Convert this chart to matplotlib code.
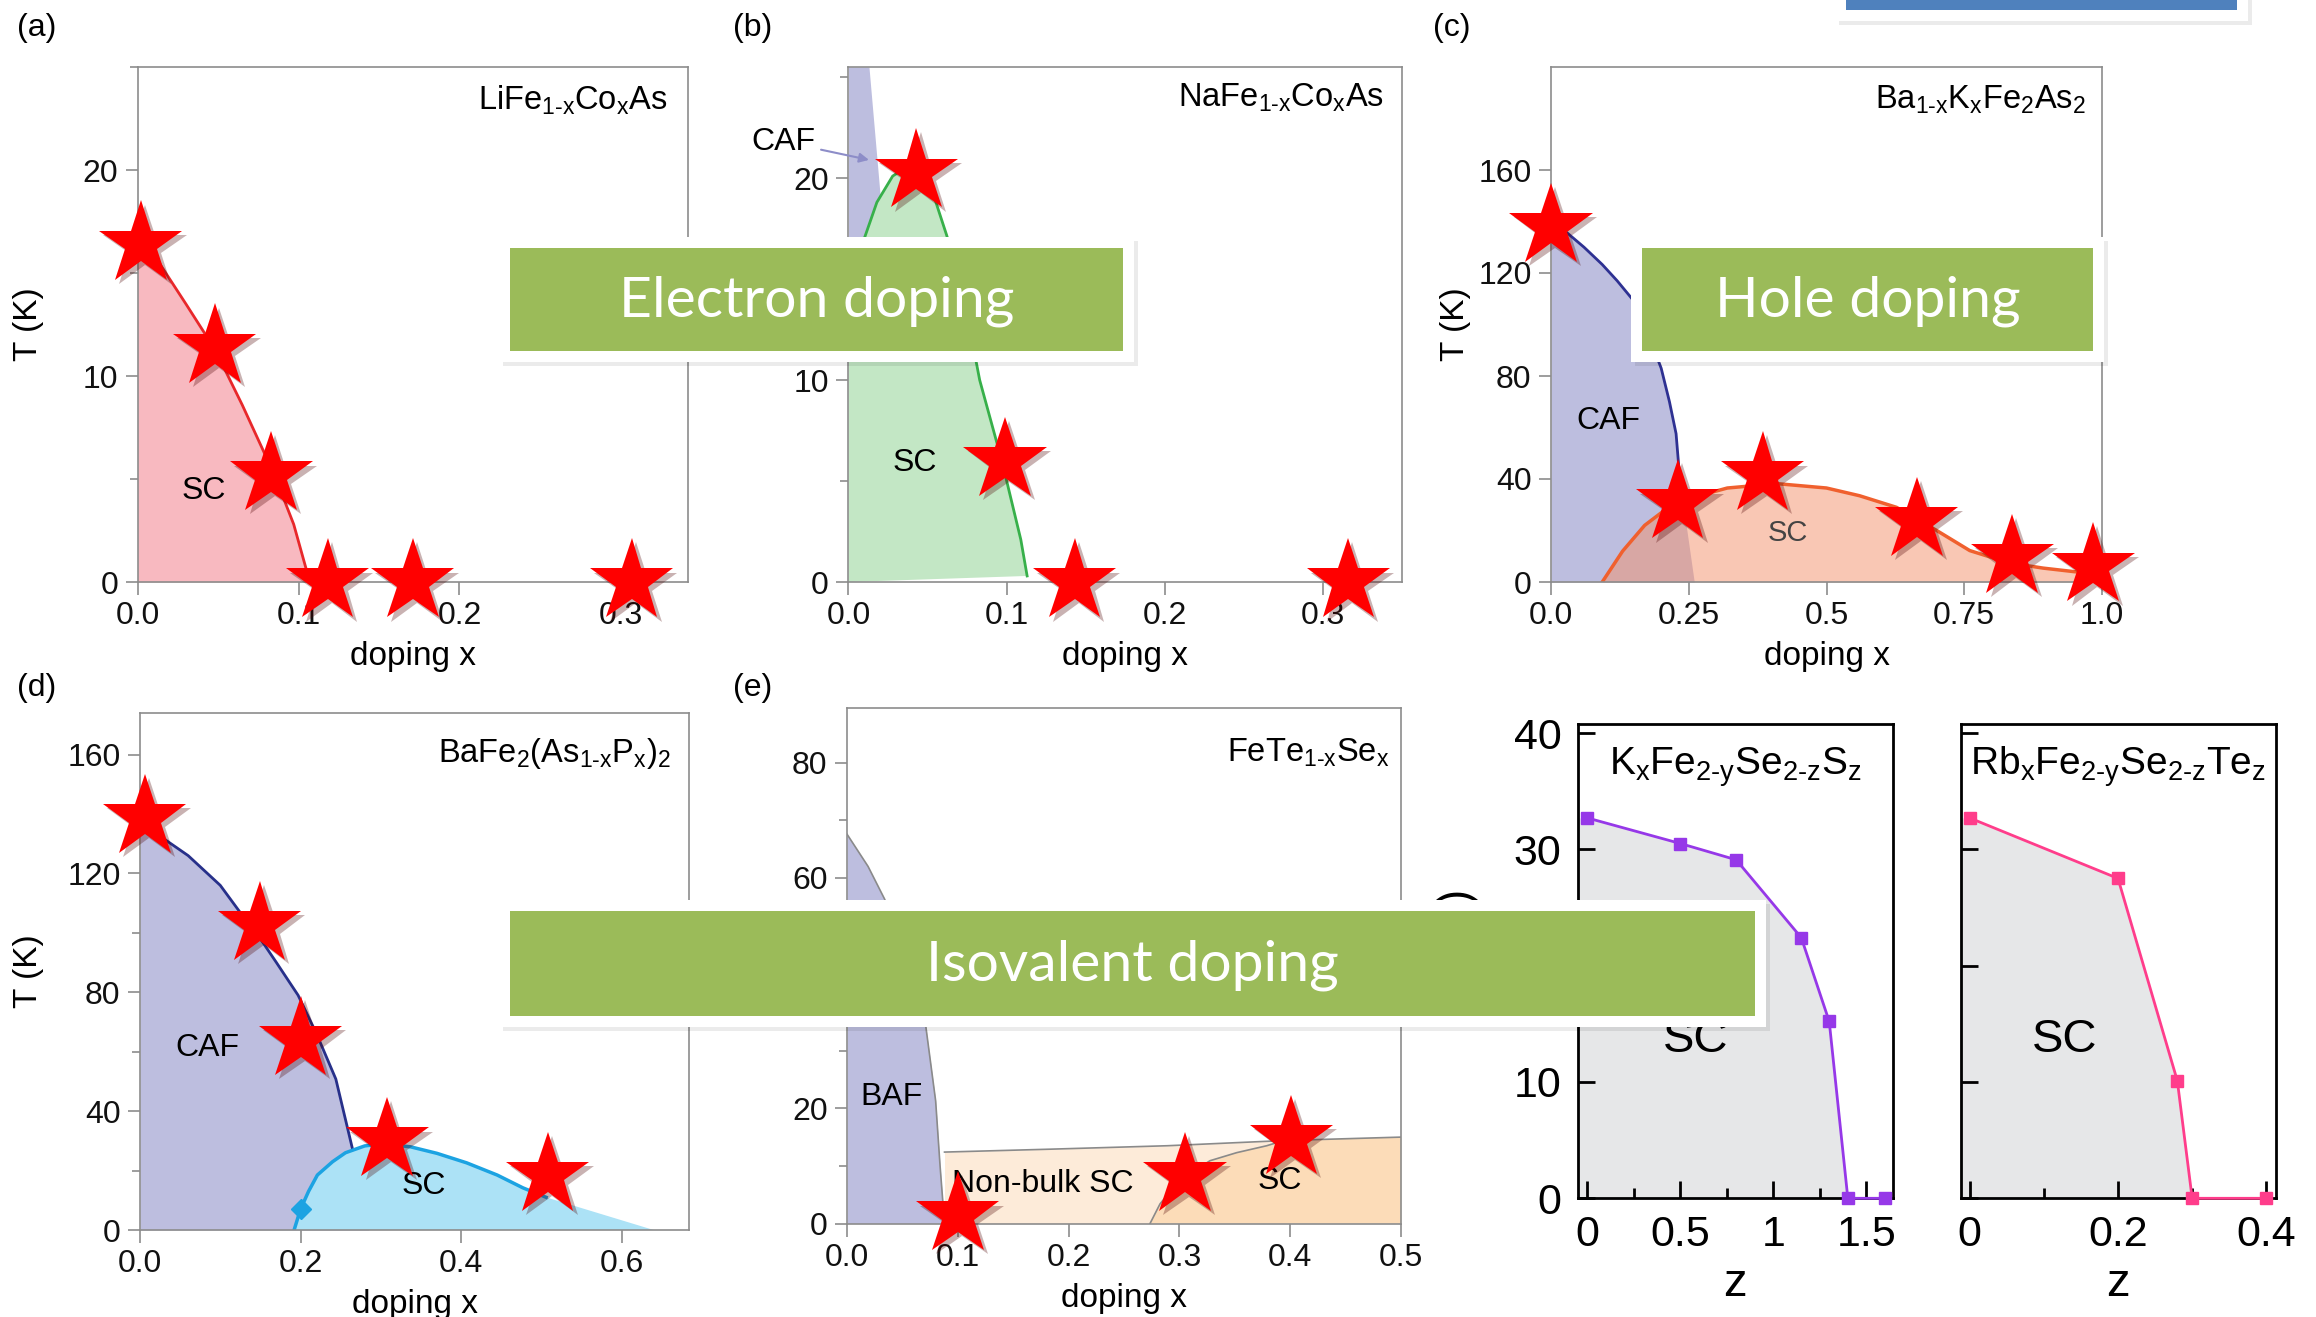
import numpy as np
import matplotlib.pyplot as plt
import matplotlib.patheffects as pe
from matplotlib.patches import Rectangle

W, H = 2316, 1317

plt.rcParams['font.family'] = ['Liberation Sans', 'DejaVu Sans']
plt.rcParams['mathtext.fontset'] = 'custom'
plt.rcParams['mathtext.rm'] = 'Liberation Sans'
plt.rcParams['mathtext.it'] = 'Liberation Sans:italic'
plt.rcParams['mathtext.default'] = 'regular'

# (a) LiFe1-xCoxAs
a_tc_x = [0.0, 0.015, 0.03, 0.048, 0.065, 0.085, 0.097, 0.107]
a_tc_T = [17.2, 15.3, 13.5, 11.3, 8.6, 5.2, 2.8, 0.0]
a_star_x = [0.002, 0.048, 0.083, 0.118, 0.171, 0.307]
a_star_T = [16.4, 11.4, 5.2, 0.0, 0.0, 0.0]

# (b) NaFe1-xCoxAs
b_caf_T = [14.5, 17.0, 19.2, 25.5]
b_caf_x = [0.022, 0.021, 0.02, 0.013]
b_sc_x = [0.0, 0.004, 0.01, 0.018, 0.028, 0.04, 0.052, 0.062, 0.071, 0.083, 0.097, 0.109, 0.113]
b_sc_T = [14.3, 15.5, 17.0, 18.8, 20.1, 20.7, 19.6, 17.2, 14.9, 10.0, 6.0, 2.1, 0.3]
b_star_x = [0.043, 0.099, 0.143, 0.316]
b_star_T = [20.3, 6.0, 0.0, 0.0]

# (c) Ba1-xKxFe2As2
c_caf_T = [0, 15, 30, 42, 57.6, 70, 83, 97, 110, 117, 123.3, 130, 136, 139]
c_caf_x = [0.26, 0.25, 0.24, 0.233, 0.227, 0.215, 0.2, 0.175, 0.147, 0.12, 0.093, 0.06, 0.027, 0.0]
c_sc_x = [0.093, 0.13, 0.17, 0.21, 0.26, 0.32, 0.41, 0.5, 0.56, 0.627, 0.7, 0.76, 0.83, 0.893, 0.95, 1.0]
c_sc_T = [0, 12, 22, 28.5, 33, 36.5, 38.2, 36.5, 33.5, 29, 20, 12.2, 7.5, 5.4, 4, 3]
c_star_x = [0.0, 0.23, 0.384, 0.664, 0.837, 0.984]
c_star_T = [138, 30.7, 41.6, 23.9, 9.6, 6.2]

# (d) BaFe2(As1-xPx)2
d_caf_x = [0.0, 0.029, 0.06, 0.1, 0.128, 0.15, 0.17, 0.197, 0.22, 0.244, 0.265, 0.275, 0.285]
d_caf_T = [136, 131.8, 126, 116, 105.7, 98, 90, 79, 66, 50.8, 27, 15, 0]
d_sc_x = [0.192, 0.2, 0.21, 0.221, 0.24, 0.256, 0.28, 0.302, 0.337, 0.37, 0.407, 0.445, 0.477, 0.506]
d_sc_T = [0, 7, 13, 18.5, 23, 26, 28.3, 29, 28, 25.8, 22.6, 18.5, 14.2, 11]
d_tail_x = [0.64]
d_tail_T = [0.0]
d_diam = (0.2, 7.0)
d_star_x = [0.006, 0.149, 0.2, 0.308, 0.508]
d_star_T = [138.8, 102.8, 64, 30, 18.4]

# (e) FeTe1-xSex
e_baf_T = [0, 10, 21.3, 34.4, 45, 56.3, 62, 67.6]
e_baf_x = [0.088, 0.084, 0.08, 0.071, 0.055, 0.034, 0.019, 0.0]
e_top_x = [0.088, 0.183, 0.289, 0.394, 0.5]
e_top_T = [12.4, 12.9, 13.5, 14.4, 15.0]
e_sc_x = [0.2735, 0.2825, 0.3, 0.3276, 0.3517, 0.3788, 0.394]
e_sc_T = [0, 3.4, 7.5, 10.9, 12.3, 13.5, 14.4]
e_star_x = [0.1, 0.305, 0.401]
e_star_T = [1.5, 8.3, 14.7]

# (f) KxFe2-ySe2-zSz and (g) RbxFe2-ySe2-zTez
f_z = [0, 0.5, 0.8, 1.15, 1.3, 1.4, 1.6]
f_T = [32.7, 30.5, 29.1, 22.4, 15.2, 0, 0]
g_z = [0, 0.2, 0.28, 0.3, 0.4]
g_T = [32.7, 27.5, 10.1, 0, 0]

LAV = '#bdbedf'
GRAY = '#8c8c8c'

fig = plt.figure(figsize=(W / 100, H / 100), dpi=100)


def add_ax(l, t, r, b):
    return fig.add_axes([l / W, 1 - b / H, (r - l) / W, (b - t) / H])


def ftext(x, y, s, **kw):
    return fig.text(x / W, 1 - y / H, s, **kw)


def stars(ax, xs, ts):
    ax.plot(xs, ts, ls='none', marker='*', ms=63, color='#ff0000', mec='none',
            clip_on=False, zorder=10,
            path_effects=[pe.SimplePatchShadow(offset=(3, -3), alpha=0.3), pe.Normal()])


def style_small(ax, xlim, ylim, xt, yt, yminor, xlabels=None):
    ax.set_xlim(xlim)
    ax.set_ylim(ylim)
    ax.set_xticks(xt)
    if xlabels is not None:
        ax.set_xticklabels(xlabels)
    ax.set_yticks(yt)
    ax.set_yticks(yminor, minor=True)
    for sp in ax.spines.values():
        sp.set_color(GRAY)
        sp.set_linewidth(1.2)
    ax.tick_params(which='both', direction='out', color=GRAY, width=1.2,
                   labelsize=23, labelcolor='#111111', pad=5)
    ax.tick_params(which='major', length=9)
    ax.tick_params(which='minor', length=6)
    ax.set_xlabel('doping x', fontsize=24, va='top')
    ax.xaxis.set_label_coords(0.5, -0.115)
    ax.set_ylabel('T (K)', fontsize=24)


def comp_label(ax, s, dx, dy):
    # dx, dy: inset from top-right corner in pixels
    bb = ax.get_position()
    ax.text(1 - dx / (bb.width * W), 1 - dy / (bb.height * H), s, transform=ax.transAxes,
            ha='right', va='baseline', fontsize=23.5)


# ---------------- (a)
ax = add_ax(137.6, 67, 688, 582)
style_small(ax, (0, 0.342), (0, 25), [0, 0.1, 0.2, 0.3], [0, 10, 20], [5, 15, 25])
ax.fill_between(a_tc_x, a_tc_T, 0, color='#f8b9c0', lw=0)
ax.plot(a_tc_x, a_tc_T, color='#e8282b', lw=2)
ax.text(0.041, 4.4, 'SC', fontsize=23, ha='center', va='center')
comp_label(ax, 'LiFe$_{1‐x}$Co$_x$As', 20, 43)
stars(ax, a_star_x, a_star_T)
ax.yaxis.set_label_coords(-0.17, 0.5)

# ---------------- (b)
ax = add_ax(848.4, 67, 1402, 582)
style_small(ax, (0, 0.35), (0, 25.5), [0, 0.1, 0.2, 0.3], [0, 10, 20], [5, 15, 25])
ax.fill_betweenx(b_caf_T, 0, b_caf_x, color=LAV, lw=0)
ax.fill(np.r_[0, b_sc_x], np.r_[0, b_sc_T], color='#c3e7c5', lw=0)
ax.plot(b_sc_x[1:], b_sc_T[1:], color='#37b04a', lw=2)
ax.text(0.042, 5.9, 'SC', fontsize=23, ha='center', va='center')
ax.annotate('CAF', xy=(0.013, 20.9), xytext=(-0.041, 21.8), fontsize=23,
            ha='center', va='center', annotation_clip=False,
            arrowprops=dict(arrowstyle='-|>', color='#8d8dc8', lw=1.5,
                            shrinkA=2, shrinkB=0, mutation_scale=14))
comp_label(ax, 'NaFe$_{1‐x}$Co$_x$As', 18, 40)
stars(ax, b_star_x, b_star_T)
ax.yaxis.set_label_coords(-0.155, 0.5)

# ---------------- (c)
ax = add_ax(1551, 67, 2102, 582)
style_small(ax, (0, 1.0), (0, 200), [0, 0.25, 0.5, 0.75, 1.0], [0, 40, 80, 120, 160], [],
            ['0.0', '0.25', '0.5', '0.75', '1.0'])
ax.fill_betweenx(c_caf_T, 0, c_caf_x, color=LAV, lw=0)
ax.fill_between(c_sc_x, c_sc_T, 0, color='#f4916b', alpha=0.5, lw=0)
ax.plot(c_caf_x[3:], c_caf_T[3:], color='#2e3192', lw=2)
ax.plot(c_sc_x, c_sc_T, color='#f0602e', lw=2.5)
ax.text(0.104, 62.7, 'CAF', fontsize=23, ha='center', va='center')
ax.text(0.43, 18.9, 'SC', fontsize=21, ha='center', va='center', color='#444444')
comp_label(ax, 'Ba$_{1‐x}$K$_x$Fe$_2$As$_2$', 16, 42)
stars(ax, c_star_x, c_star_T)
ax.yaxis.set_label_coords(-0.145, 0.5)

# ---------------- (d)
ax = add_ax(140, 713, 689, 1230)
style_small(ax, (0, 0.684), (0, 174), [0, 0.2, 0.4, 0.6], [0, 40, 80, 120, 160], [20, 60, 100, 140])
ax.fill_betweenx(d_caf_T, 0, d_caf_x, color=LAV, lw=0)
ax.fill(np.r_[d_sc_x, d_tail_x], np.r_[d_sc_T, d_tail_T], color='#ace2f6', lw=0)
ax.plot(d_caf_x[:11], d_caf_T[:11], color='#27308a', lw=2)
ax.plot(d_sc_x, d_sc_T, color='#1ca3e2', lw=2.5)
ax.plot([d_diam[0]], [d_diam[1]], marker='D', ms=10, color='#1ca3e2', ls='none')
ax.text(0.084, 61.3, 'CAF', fontsize=23, ha='center', va='center')
ax.text(0.354, 14.9, 'SC', fontsize=23, ha='center', va='center')
comp_label(ax, 'BaFe$_2$(As$_{1‐x}$P$_x$)$_2$', 18, 49)
stars(ax, d_star_x, d_star_T)
ax.yaxis.set_label_coords(-0.175, 0.5)

# ---------------- (e)
ax = add_ax(847, 708, 1401, 1223.5)
style_small(ax, (0, 0.5), (0, 89.5), [0, 0.1, 0.2, 0.3, 0.4, 0.5], [0, 20, 40, 60, 80], [10, 30, 50, 70])
ax.fill_betweenx(e_baf_T, 0, e_baf_x, color=LAV, lw=0)
ax.plot(e_baf_x, e_baf_T, color='#8a8a8a', lw=1.2)
ax.fill_between(e_top_x, e_top_T, 0, color='#fdebd9', lw=0)
sc_poly_x = np.r_[e_sc_x, e_top_x[-1:], e_top_x[-1:]]
sc_poly_T = np.r_[e_sc_T, e_top_T[-1:], 0]
ax.fill(sc_poly_x, sc_poly_T, color='#fcdcb8', lw=0)
ax.plot(e_top_x, e_top_T, color='#8a8a8a', lw=1.2)
ax.plot(e_sc_x, e_sc_T, color='#8a8a8a', lw=1.2)
ax.text(0.0406, 22, 'BAF', fontsize=23, ha='center', va='center')
ax.text(0.177, 6.8, 'Non-bulk SC', fontsize=23, ha='center', va='center')
ax.text(0.391, 7.4, 'SC', fontsize=23, ha='center', va='center')
comp_label(ax, 'FeTe$_{1‐x}$Se$_x$', 12, 54)
stars(ax, e_star_x, e_star_T)
ax.yaxis.set_label_coords(-0.165, 0.5)


# ---------------- (f), (g)
def style_big(ax, xlim, xt, xlabels, xminor, ylabels):
    ax.set_xlim(xlim)
    ax.set_ylim(0, 40.8)
    ax.set_xticks(xt)
    ax.set_xticklabels(xlabels)
    ax.set_xticks(xminor, minor=True)
    ax.set_yticks([0, 10, 20, 30, 40])
    if not ylabels:
        ax.set_yticklabels([])
    for sp in ax.spines.values():
        sp.set_color('black')
        sp.set_linewidth(2)
    ax.tick_params(which='both', direction='in', width=2, labelsize=31, pad=12,
                   top=False, right=False)
    ax.tick_params(which='major', length=12)
    ax.tick_params(which='minor', length=7)
    ax.set_xlabel('z', fontsize=34)
    ax.xaxis.set_label_coords(0.5, -0.135)


ax = add_ax(1578, 723.7, 1892.5, 1198.3)
style_big(ax, (-0.05, 1.64), [0, 0.5, 1, 1.5], ['0', '0.5', '1', '1.5'], [0.25, 0.75, 1.25], True)
x0 = ax.get_xlim()[0]
ax.fill_between(np.r_[x0, f_z], np.r_[f_T[0], f_T], 0, color='#e6e7e8', lw=0)
ax.plot(f_z, f_T, color='#9638e8', lw=2, marker='s', ms=9, clip_on=False, zorder=5)
ax.text(0.58, 13.6, 'SC', fontsize=34, ha='center', va='center')
ax.text(0.5, 1 - 51 / 474.6, 'K$_x$Fe$_{2‐y}$Se$_{2‐z}$S$_z$', transform=ax.transAxes,
        ha='center', va='baseline', fontsize=28)

ax = add_ax(1960.7, 723.7, 2276, 1198.3)
style_big(ax, (-0.012, 0.413), [0, 0.2, 0.4], ['0', '0.2', '0.4'], [0.1, 0.3], False)
x0 = ax.get_xlim()[0]
ax.fill_between(np.r_[x0, g_z], np.r_[g_T[0], g_T], 0, color='#e6e7e8', lw=0)
ax.plot(g_z, g_T, color='#ff3d8b', lw=2, marker='s', ms=9, clip_on=False, zorder=5)
ax.text(0.128, 13.6, 'SC', fontsize=34, ha='center', va='center')
ax.text(0.5, 1 - 51 / 474.6, 'Rb$_x$Fe$_{2‐y}$Se$_{2‐z}$Te$_z$', transform=ax.transAxes,
        ha='center', va='baseline', fontsize=28)

# y label of (f), mostly hidden behind the banner
ftext(1458, 950, 'T$_c$ (K)', fontsize=33, rotation=90, ha='center', va='center', zorder=2)

# panel letters
for lab, (px, py) in zip(['(a)', '(b)', '(c)', '(d)', '(e)'],
                         [(37, 28), (753, 28), (1452, 28), (37, 688), (753, 688)]):
    ftext(px, py, lab, fontsize=23, ha='center', va='center')


# slide banners
def banner(x0, y0, x1, y1, text, color='#9bbb59'):
    pad = 11
    fig.add_artist(Rectangle(((x0 - pad + 4) / W, 1 - (y1 + pad + 4) / H),
                             (x1 - x0 + 2 * pad) / W, (y1 - y0 + 2 * pad) / H,
                             transform=fig.transFigure, color='#000000', alpha=0.08,
                             lw=0, zorder=20))
    fig.add_artist(Rectangle(((x0 - pad) / W, 1 - (y1 + pad) / H),
                             (x1 - x0 + 2 * pad) / W, (y1 - y0 + 2 * pad) / H,
                             transform=fig.transFigure, color='white', lw=0, zorder=21))
    fig.add_artist(Rectangle((x0 / W, 1 - y1 / H), (x1 - x0) / W, (y1 - y0) / H,
                             transform=fig.transFigure, color=color, lw=0, zorder=22))
    if text:
        ftext((x0 + x1) / 2, (y0 + y1) / 2 + 2, text, fontsize=41, color='white',
              ha='center', va='center', family=['Lato', 'DejaVu Sans'], zorder=23)


banner(510, 248, 1123, 351, 'Electron doping')
banner(1642, 248, 2093, 351, 'Hole doping')
banner(510, 911, 1755, 1016, 'Isovalent doping')
banner(1846, -20, 2237, 10, '', color='#4f81bd')

fig.savefig('out.png', dpi=100)
